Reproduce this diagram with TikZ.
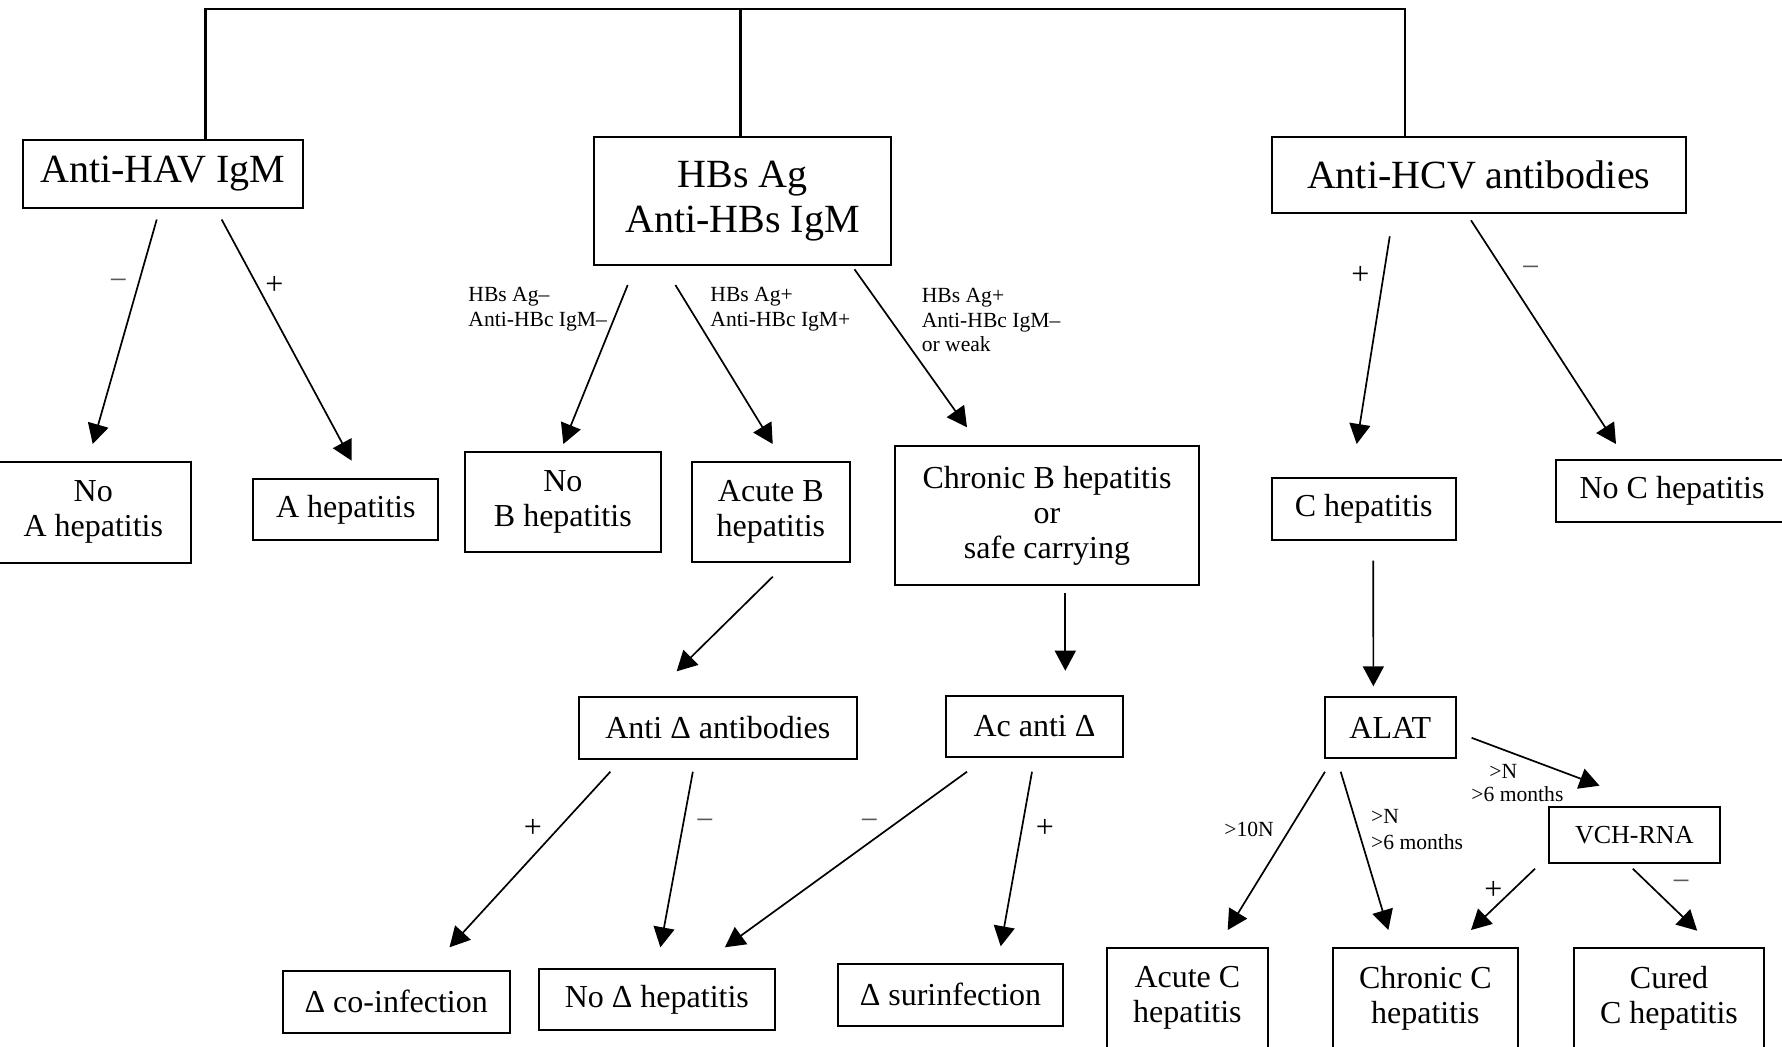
\documentclass[tikz,border=0pt]{standalone}
\usepackage{fontspec}
\setmainfont{Liberation Serif}
\usetikzlibrary{arrows.meta}
\tikzset{
  box/.style={draw, line width=1pt, inner sep=0pt, align=center},
  sz/.style 2 args={minimum width=#1*0.5pt, minimum height=#2*0.5pt},
  big/.style={font=\fontsize{20}{22.5}\selectfont},
  mid/.style={font=\fontsize{16}{17.5}\selectfont},
  lbl/.style={font=\fontsize{10.8}{12.2}\selectfont, align=left, inner sep=0pt, anchor=west},
  sgn/.style={font=\fontsize{16}{16}\selectfont, inner sep=0pt},
  neg/.style={sgn, text=black!65},
  arr/.style={line width=0.85pt, -{Triangle[length=10pt, width=10.5pt]}},
}
\begin{document}
\begin{tikzpicture}[x=0.5pt, y=-0.5pt]
  \useasboundingbox (0,0) rectangle (1782,1046);
  \node[box, big, sz={279.5}{68}] (hav) at (162.75,174) {Anti-HAV IgM};
  \node[box, big, sz={297}{128}] (hbs) at (742.5,201) {HBs Ag\\Anti-HBs IgM};
  \node[box, big, sz={413.5}{75.7}] (hcv) at (1478.75,174.85) {Anti-HCV antibodies};
  \node[box, mid, sz={194.7}{101}] (noa) at (93.3,512.2) {No\\A hepatitis};
  \node[box, mid, sz={185}{61}] (ahep) at (345.8,509.5) {A hepatitis};
  \node[box, mid, sz={195.7}{100}] (nob) at (562.85,501.7) {No\\B hepatitis};
  \node[box, mid, sz={158.3}{100}] (acb) at (770.85,512.3) {Acute B\\hepatitis};
  \node[box, mid, sz={304}{139.3}] (chb) at (1047,515.35) {Chronic B hepatitis\\or\\safe carrying};
  \node[box, mid, sz={184}{61.7}] (chep) at (1363.7,509.15) {C hepatitis};
  \node[box, mid, sz={232}{61.7}] (noc) at (1672,490.85) {No C hepatitis};
  \node[box, mid, sz={277.7}{62.3}] (antid) at (717.85,727.85) {Anti Δ antibodies};
  \node[box, mid, sz={177.6}{61}] (acd) at (1034.5,726.2) {Ac anti Δ};
  \node[box, mid, sz={130.7}{61.6}] (alat) at (1390.35,727.5) {ALAT};
  \node[box, font=\fontsize{13}{15}\selectfont, sz={171.4}{55.4}] (vch) at (1634.3,835) {VCH-RNA};
  \node[box, mid, sz={227.5}{62}] (coinf) at (396.25,1001.7) {Δ co-infection};
  \node[box, mid, sz={235.7}{61.3}] (nod) at (656.85,999.35) {No Δ hepatitis};
  \node[box, mid, sz={225}{61.7}] (surinf) at (950.5,994.85) {Δ surinfection};
  \node[box, mid, sz={161.8}{99.7}] (acc) at (1187.4,998.15) {Acute C\\hepatitis};
  \node[box, mid, sz={184.7}{99.7}] (chc) at (1425.35,998.15) {Chronic C\\hepatitis};
  \node[box, mid, sz={190}{99.7}] (cured) at (1669,998.15) {Cured\\C hepatitis};

  \coordinate (tl) at (205.5,9);
  \coordinate (tm) at (740.5,9);
  \coordinate (tr) at (1404.7,9);
  \draw[line width=1.1pt] (tl |- hav.north) -- (tl) -- (tr) -- (tr |- hcv.north);
  \draw[line width=1.1pt] (tm) -- (tm |- hbs.north);

  \begin{scope}[arr]
    \draw ([shift={(-6,10.5)}]hav.south) to ([shift={(-0.6,-16.7)}]noa.north);
    \draw ([shift={(58.9,10.5)}]hav.south) to ([shift={(5.9,-17.3)}]ahep.north);
    \draw ([shift={(-114.8,19)}]hbs.south) to ([shift={(0.5,-6.7)}]nob.north);
    \draw ([shift={(-67.1,19)}]hbs.south) to ([shift={(1.9,-17.3)}]acb.north);
    \draw ([shift={(112,3.3)}]hbs.south) to ([shift={(-80,-17.4)}]chb.north);
    \draw ([shift={(-89,22.6)}]hcv.south) to ([shift={(-7,-33.3)}]chep.north);
    \draw ([shift={(-7.75,6.6)}]hcv.south) to ([shift={(-56,-15)}]noc.north);
    \draw ([shift={(1.9,13.4)}]acb.south) to ([shift={(-41.2,-24.4)}]antid.north);
    \draw ([shift={(18.3,7.3)}]chb.south) to ([shift={(30.8,-24)}]acd.north);
    \draw ([shift={(9.6,19.5)}]chep.south) to ([shift={(-17,-9.4)}]alat.north);
    \draw ([shift={(-107.5,11.7)}]antid.south) to ([shift={(53.25,-22.4)}]coinf.north);
    \draw ([shift={(-25,11.7)}]antid.south) to ([shift={(3.5,-20.4)}]nod.north);
    \draw ([shift={(-67.5,14)}]acd.south) to ([shift={(68,-20.4)}]nod.north);
    \draw ([shift={(-2.5,14)}]acd.south) to ([shift={(50.2,-16.7)}]surinf.north);
    \draw ([shift={(-65.35,12.4)}]alat.south) to ([shift={(40.3,-17.3)}]acc.north);
    \draw ([shift={(-49.65,12.4)}]alat.south) to ([shift={(-37,-17.3)}]chc.north);
    \draw ([shift={(14.9,10.3)}]alat.east) to ([shift={(-34.8,-20.6)}]vch.north);
    \draw ([shift={(-99.3,5)}]vch.south) to ([shift={(45.65,-17.3)}]chc.north);
    \draw ([shift={(-1.5,5)}]vch.south) to ([shift={(28.2,-16.6)}]cured.north);
  \end{scope}

  \node[neg] (havm) at (118.5,285) {−};
  \node[sgn] (havp) at (274.4,285) {+};
  \node[lbl] (hbsl1) at (468,309) {HBs Ag–\\Anti-HBc IgM–};
  \node[lbl] (hbsl2) at (710,309) {HBs Ag+\\Anti-HBc IgM+};
  \node[lbl] (hbsl3) at (921.4,320) {HBs Ag+\\Anti-HBc IgM–\\or weak};
  \node[sgn] (hcvp) at (1360.4,275) {+};
  \node[neg] (hcvm) at (1530.7,271.7) {−};
  \node[sgn] (antidp) at (533,828) {+};
  \node[neg] (antidm) at (705,825) {−};
  \node[neg] (acdm) at (869.5,825) {−};
  \node[sgn] (acdp) at (1045,828) {+};
  \node[lbl, anchor=center] (alatl1) at (1249,829) {>10N};
  \node[lbl, font=\fontsize{10.8}{13}\selectfont] (alatl2) at (1370.7,830) {>N\\>6 months};
  \node[lbl, font=\fontsize{10.8}{11.7}\selectfont] (alatl3) at (1471,783.3) {\hspace{9pt}>N\\>6 months};
  \node[sgn] (vchp) at (1493.3,890) {+};
  \node[neg] (vchm) at (1681,885.7) {−};
\end{tikzpicture}
\end{document}
